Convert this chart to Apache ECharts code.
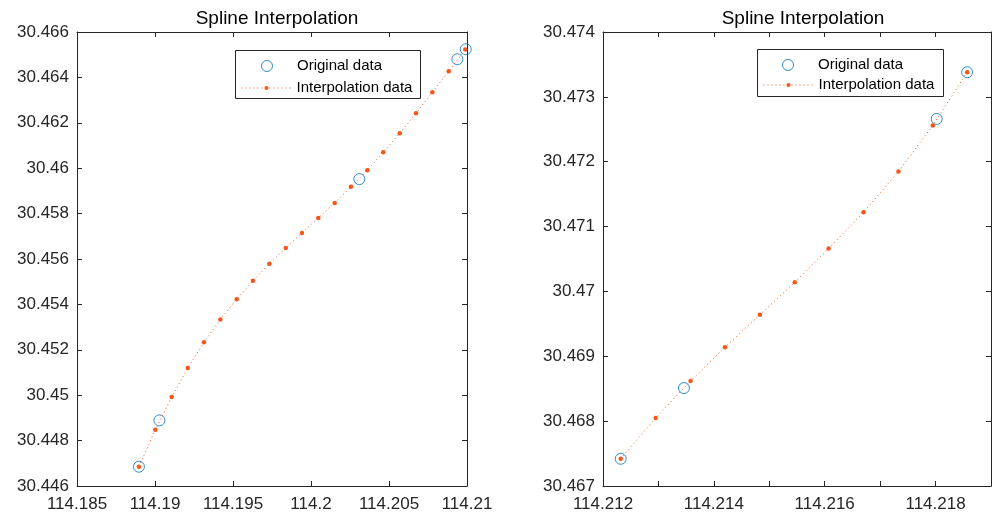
<!DOCTYPE html>
<html>
<head>
<meta charset="utf-8">
<script src="https://cdn.jsdelivr.net/npm/echarts@6/dist/echarts.min.js"></script>
<style>
  html, body { margin: 0; padding: 0; background: #fff; }
  #chart { width: 994px; height: 515px; }
</style>
</head>
<body>
<div id="chart"></div>
<script>
// left panel: original points and spline output
const leftOrigX = [114.18897, 114.19028, 114.2031, 114.20938, 114.20992];
const leftOrigY = [30.44685, 30.44889, 30.45952, 30.4648, 30.46524];
const leftInterpX = [114.18897, 114.19002, 114.19107, 114.1921, 114.19314, 114.19419,
  114.19524, 114.19628, 114.19733, 114.19838, 114.19942, 114.20047, 114.20152,
  114.20256, 114.20361, 114.20463, 114.20569, 114.20673, 114.20778, 114.20883, 114.20989];
const leftInterpY = [30.44685, 30.44848, 30.44992, 30.4512, 30.45233, 30.45334,
  30.45423, 30.45504, 30.45579, 30.45648, 30.45715, 30.45781, 30.45847,
  30.45918, 30.45991, 30.4607, 30.46154, 30.46242, 30.46335, 30.46427, 30.46523];

// right panel
const rightOrigX = [114.21232, 114.21346, 114.21802, 114.21857];
const rightOrigY = [30.46742, 30.46851, 30.47266, 30.47338];
const rightInterpX = [114.21232, 114.21295, 114.21358, 114.2142, 114.21483, 114.21546,
  114.21607, 114.2167, 114.21733, 114.21795, 114.21857];
const rightInterpY = [30.46742, 30.46805, 30.46862, 30.46914, 30.46964, 30.47014,
  30.47066, 30.47122, 30.47185, 30.47256, 30.47338];

const titleText = "Spline Interpolation";
const legendNames = ["Original data", "Interpolation data"];

const FONT = "'Liberation Sans', Arial, Helvetica, sans-serif";
const AXIS_COLOR = "#262626";
const BLUE = "#0072BD";
const ORANGE = "#F5561A";

function zip(xs, ys) {
  return xs.map((x, i) => [x, ys[i]]);
}

function makeAxes(gridIndex, xr, yr, xLabelFilter) {
  const common = {
    gridIndex: gridIndex,
    type: "value",
    scale: true,
    axisLine: { show: true, onZero: false, lineStyle: { color: AXIS_COLOR, width: 1 } },
    axisTick: { show: true, inside: true, length: 5, lineStyle: { color: AXIS_COLOR } },
    splitLine: { show: false },
  };
  const label = {
    color: AXIS_COLOR,
    fontFamily: FONT,
    fontSize: 17,
  };
  const x = [
    Object.assign({}, common, {
      position: "bottom",
      min: xr[0], max: xr[1], interval: xr[2],
      axisLabel: Object.assign({}, label, {
        margin: 10,
        showMaxLabel: true,
        formatter: xLabelFilter,
      }),
    }),
    Object.assign({}, common, {
      position: "top",
      min: xr[0], max: xr[1], interval: xr[2],
      axisLabel: { show: false },
    }),
  ];
  const y = [
    Object.assign({}, common, {
      position: "left",
      min: yr[0], max: yr[1], interval: yr[2],
      axisLabel: Object.assign({}, label, { margin: 8 }),
    }),
    Object.assign({}, common, {
      position: "right",
      min: yr[0], max: yr[1], interval: yr[2],
      axisLabel: { show: false },
    }),
  ];
  return { x, y };
}

const leftAxes = makeAxes(0, [114.185, 114.21, 0.005], [30.446, 30.466, 0.002], null);
// right panel: ticks every 0.001, labels every 0.002
const rightAxes = makeAxes(1, [114.212, 114.219, 0.001], [30.467, 30.474, 0.001], function (v) {
  const k = Math.round(v * 1000);
  return k % 2 === 0 ? String(k / 1000) : "";
});

const legendText = { fontFamily: FONT, fontSize: 15, color: "#000", lineHeight: 16 };

function legendPair(idx, leftCircle, leftLine, top1, top2) {
  return [
    {
      id: "lo" + idx,
      data: [{ name: legendNames[0] }],
      left: leftCircle, top: top1,
      padding: 0,
      itemWidth: 50, itemHeight: 11,
      itemGap: 0,
      selectedMode: false,
      textStyle: legendText,
      itemStyle: { color: "transparent", borderColor: BLUE, borderWidth: 1 },
    },
    {
      id: "li" + idx,
      data: [{ name: legendNames[1] }],
      left: leftLine, top: top2,
      padding: 0,
      itemWidth: 50, itemHeight: 5,
      selectedMode: false,
      textStyle: legendText,
      lineStyle: { width: 1, type: [1, 3], color: ORANGE },
    },
  ];
}

const chart = echarts.init(document.getElementById("chart"), null, { renderer: "canvas" });

const option = {
  animation: false,
  backgroundColor: "#fff",
  title: [
    { text: titleText, left: 272, top: 4, textAlign: "center",
      textStyle: { fontFamily: FONT, fontSize: 19, fontWeight: "normal", color: "#000" } },
    { text: titleText, left: 798, top: 4, textAlign: "center",
      textStyle: { fontFamily: FONT, fontSize: 19, fontWeight: "normal", color: "#000" } },
  ],
  grid: [
    { left: 77, top: 32, width: 390, height: 454, containLabel: false },
    { left: 603, top: 32, width: 390, height: 454, containLabel: false },
  ],
  xAxis: leftAxes.x.concat(rightAxes.x),
  yAxis: leftAxes.y.concat(rightAxes.y),
  legend: [].concat(
    legendPair(0, 261, 241, 58, 80),
    legendPair(1, 782, 763, 57, 77)
  ),
  graphic: [
    { type: "rect", z: -1, zlevel: 0, shape: { x: 235.5, y: 50.5, width: 185, height: 48 },
      style: { fill: "#fff", stroke: AXIS_COLOR, lineWidth: 1 } },
    { type: "rect", z: -1, zlevel: 0, shape: { x: 757.5, y: 49.5, width: 186, height: 47 },
      style: { fill: "#fff", stroke: AXIS_COLOR, lineWidth: 1 } },
  ],
  series: [
    {
      name: legendNames[0], type: "scatter",
      xAxisIndex: 0, yAxisIndex: 0,
      data: zip(leftOrigX, leftOrigY),
      symbol: "circle", symbolSize: 11,
      itemStyle: { color: "transparent", borderColor: BLUE, borderWidth: 1 },
      z: 2,
    },
    {
      name: legendNames[1], type: "line",
      xAxisIndex: 0, yAxisIndex: 0,
      data: zip(leftInterpX, leftInterpY),
      symbol: "circle", symbolSize: 4.5, showAllSymbol: true,
      itemStyle: { color: ORANGE, borderWidth: 0 },
      lineStyle: { color: ORANGE, width: 1, type: [1, 3] },
      z: 3,
    },
    {
      name: legendNames[0], type: "scatter",
      xAxisIndex: 2, yAxisIndex: 2,
      data: zip(rightOrigX, rightOrigY),
      symbol: "circle", symbolSize: 11,
      itemStyle: { color: "transparent", borderColor: BLUE, borderWidth: 1 },
      z: 2,
    },
    {
      name: legendNames[1], type: "line",
      xAxisIndex: 2, yAxisIndex: 2,
      data: zip(rightInterpX, rightInterpY),
      symbol: "circle", symbolSize: 4.5, showAllSymbol: true,
      itemStyle: { color: ORANGE, borderWidth: 0 },
      lineStyle: { color: ORANGE, width: 1, type: [1, 3] },
      z: 3,
    },
  ],
};

chart.setOption(option);
</script>
</body>
</html>
